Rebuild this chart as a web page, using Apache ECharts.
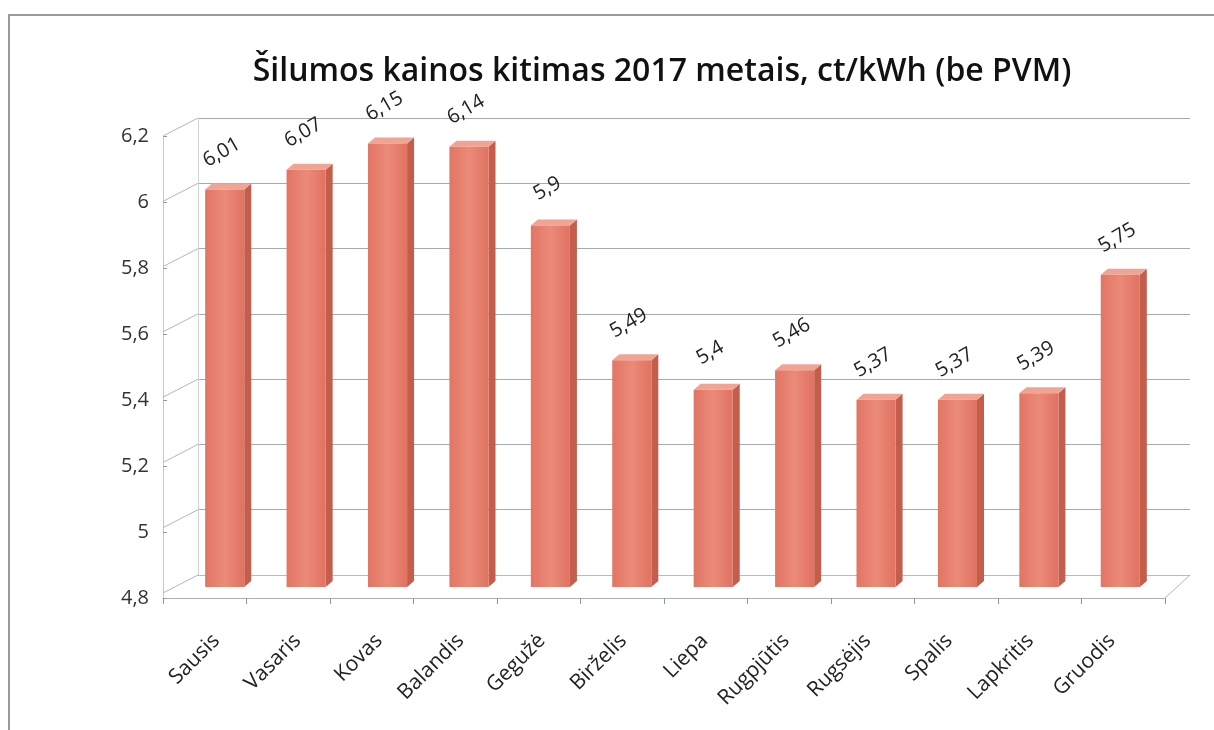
<!DOCTYPE html>
<html>
<head>
<meta charset="utf-8">
<script src="https://cdn.jsdelivr.net/npm/echarts@6/dist/echarts.min.js"></script>
<style>
html,body{margin:0;padding:0;background:#fff;}
#chart{width:1214px;height:730px;}
</style>
</head>
<body>
<div id="chart"></div>
<script>
const titleText = 'Šilumos kainos kitimas 2017 metais, ct/kWh (be PVM)';
const months = ['Sausis','Vasaris','Kovas','Balandis','Gegužė','Birželis','Liepa','Rugpjūtis','Rugsėjis','Spalis','Lapkritis','Gruodis'];
const prices = [6.01, 6.07, 6.15, 6.14, 5.9, 5.49, 5.4, 5.46, 5.37, 5.37, 5.39, 5.75];
const yTicks = [4.8, 5.0, 5.2, 5.4, 5.6, 5.8, 6.0, 6.2];
const yMin = 4.8, yMax = 6.2, yStep = 0.2;

const fmt = v => String(Math.round(v * 100) / 100).replace('.', ',');

const chart = echarts.init(document.getElementById('chart'));
const fontFam = '"Open Sans", "Liberation Sans", sans-serif';
const wallDX = -35, wallDY = 18;

function renderBar(params, api) {
  const idx = api.value(0);
  const val = api.value(1);
  const top = api.coord([idx, val]);
  const bot = api.coord([idx, yMin]);
  const w = api.size([1, 0])[0] * 0.48;
  const x0 = top[0] - w / 2, x1 = top[0] + w / 2;
  const dx = 7, dy = -6;
  return {
    type: 'group',
    children: [
      { type: 'polygon', shape: { points: [[x1, top[1]], [x1 + dx, top[1] + dy], [x1 + dx, bot[1] + dy], [x1, bot[1]]] },
        style: { fill: '#c45e4c' } },
      { type: 'polygon', shape: { points: [[x0, top[1]], [x0 + dx, top[1] + dy], [x1 + dx, top[1] + dy], [x1, top[1]]] },
        style: { fill: '#f0a494' } },
      { type: 'rect', shape: { x: x0, y: top[1], width: w, height: bot[1] - top[1] },
        style: { fill: new echarts.graphic.LinearGradient(0, 0, 1, 0, [
          { offset: 0, color: '#e27564' }, { offset: 0.5, color: '#ec8a79' }, { offset: 1, color: '#e07261' }]) } },
      { type: 'text', x: top[0] - 3, y: top[1] - 37, rotation: Math.PI / 6,
        style: { text: fmt(val), fill: '#222', font: '20px ' + fontFam, align: 'center', verticalAlign: 'middle' } }
    ]
  };
}

function renderWall(params, api) {
  const v = api.value(0);
  const p = api.coord([0, v]);
  const left = p[0] - api.size([1, 0])[0] / 2;
  const children = [
    { type: 'line', shape: { x1: left, y1: p[1], x2: left + wallDX, y2: p[1] + wallDY },
      style: { stroke: '#b0b7c1', lineWidth: 1 } }
  ];
  if (v === yMin) {
    const last = api.coord([months.length - 1, v]);
    const right = last[0] + api.size([1, 0])[0] / 2;
    children.push({ type: 'line', shape: { x1: right, y1: p[1], x2: right + wallDX + 10, y2: p[1] + wallDY + 5 },
      style: { stroke: '#b0b7c1', lineWidth: 1 } });
  }
  return { type: 'group', children };
}

chart.setOption({
  backgroundColor: '#fff',
  animation: false,
  graphic: [
    { type: 'rect', shape: { x: 9, y: 15, width: 1230, height: 730 }, style: { fill: 'none', stroke: '#9a9a9a', lineWidth: 2 } },
    { type: 'text', x: 662, y: 72, style: { text: titleText, align: 'center', verticalAlign: 'middle',
      font: '600 32px ' + fontFam, fill: '#111' } }
  ],
  grid: [
    { left: 198, right: 24, top: 118, bottom: 155 },
    { left: 184, right: 53, top: 127, bottom: 143 },
    { left: 163, right: 49, top: 136, bottom: 132 }
  ],
  xAxis: [
    { gridIndex: 0, type: 'category', data: months, axisLine: { show: true, lineStyle: { color: '#b5bcc6' } }, axisTick: { show: false }, axisLabel: { show: false } },
    { gridIndex: 1, type: 'category', data: months, axisLine: { show: false }, axisTick: { show: false },
      axisLabel: { rotate: 45, margin: 42, fontSize: 21, color: '#222', fontFamily: fontFam, padding: [0, 12, 0, 0] } },
    { gridIndex: 2, type: 'category', data: months, axisLine: { show: true, lineStyle: { color: '#a9b1bc' } },
      axisTick: { show: true, length: 6, lineStyle: { color: '#8a96a3' } }, axisLabel: { show: false } }
  ],
  yAxis: [
    { gridIndex: 0, type: 'value', min: yMin, max: yMax, interval: yStep, axisLabel: { show: false },
      axisLine: { show: true, lineStyle: { color: '#d0d4da' } }, axisTick: { show: false },
      splitLine: { show: true, lineStyle: { color: '#a3aab5', width: 1 } } },
    { gridIndex: 1, type: 'value', min: yMin, max: yMax, interval: yStep, show: false },
    { gridIndex: 2, type: 'value', min: yMin, max: 6.2 + 0.2 * 5 / 65.3, interval: yStep, show: false },
    { gridIndex: 2, type: 'value', min: yMin, max: yMax, interval: yStep, position: 'left',
      axisLine: { show: true, onZero: false, lineStyle: { color: '#c8c8c8' } },
      axisTick: { show: true, length: 4, inside: true, lineStyle: { color: '#999' } },
      splitLine: { show: false },
      axisLabel: { margin: 14, fontSize: 20, color: '#333', fontFamily: fontFam, formatter: v => fmt(v) } }
  ],
  series: [
    { type: 'custom', xAxisIndex: 0, yAxisIndex: 0, renderItem: renderWall,
      data: yTicks.map(v => [v]), encode: { y: 0 }, silent: true, clip: false },
    { type: 'custom', xAxisIndex: 1, yAxisIndex: 1, renderItem: renderBar,
      data: prices.map((v, i) => [i, v]), clip: false }
  ]
});
</script>
</body>
</html>
